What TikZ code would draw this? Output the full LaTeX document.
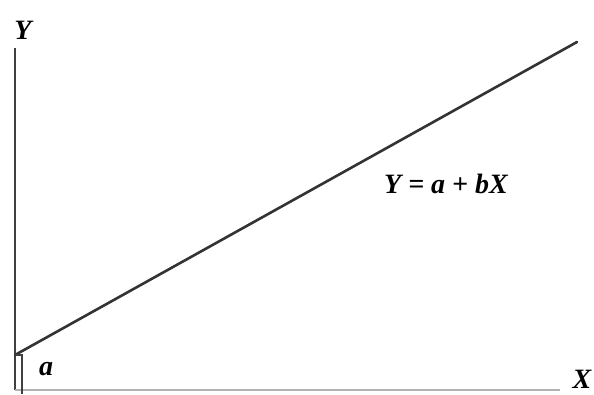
\documentclass[tikz,border=0pt]{standalone}
\usepackage{tikz}
\usepackage{fontspec}
\setmainfont{Liberation Serif}
\usetikzlibrary{positioning}

\begin{document}
\begin{tikzpicture}[
  x=1pt, y=-1pt,
  axis/.style = {line width=2.4pt, black!75},
  baseaxis/.style = {line width=2.4pt, black!30},
  regline/.style = {line width=2.6pt, black!80, line cap=round},
  lbl/.style = {font=\bfseries\itshape\fontsize{28}{30}\selectfont, inner sep=0pt}
]
  \useasboundingbox (0,0) rectangle (594,394);

  % axes
  \coordinate (origin) at (15,390);
  \coordinate (ytop) at (15,48);
  \coordinate (xend) at (560,390);
  \draw[axis] (origin) -- (ytop);
  \draw[baseaxis] (origin) -- (xend);

  % regression line
  \coordinate (icpt) at (15,355);
  \coordinate (lineend) at (577,42);
  \draw[regline] (icpt) -- (lineend);

  % intercept mark
  \coordinate (tickend) at (22,355);
  \coordinate (tickfoot) at (22,394);
  \draw[line width=1.4pt, black!75] (icpt) -- (tickend) -- (tickfoot);

  % labels
  \node[lbl] (ylabel) at (23,30) {Y};
  \node[lbl] (xlabel) at (582,379) {X};
  \node[lbl] (alabel) at (46,369) {a};
  \node[lbl] (eqlabel) at (446,184) {Y = a + bX};
\end{tikzpicture}
\end{document}
